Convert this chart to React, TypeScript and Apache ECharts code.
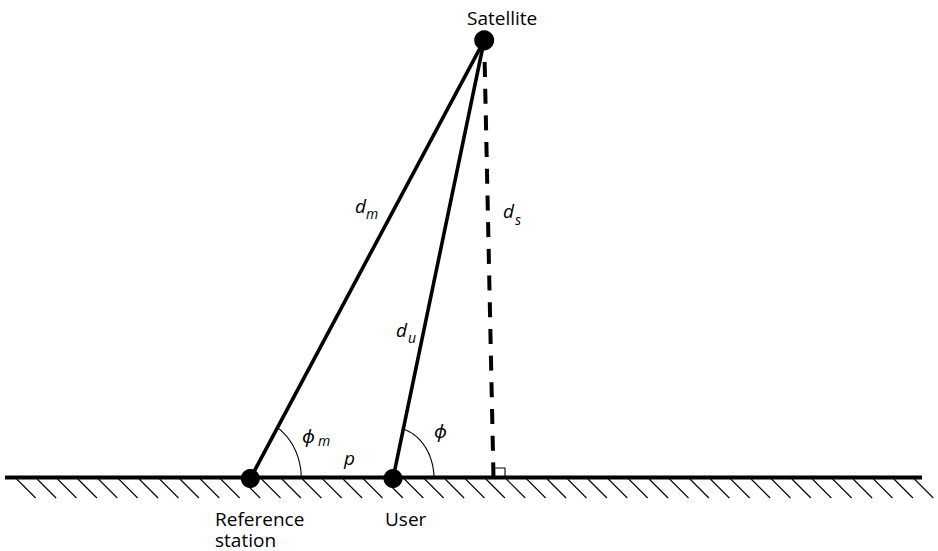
import React, { useEffect, useRef } from "react";
import * as echarts from "echarts";

const W = 938;
const H = 551;

// Geometry (data units = pixels of the 938x551 canvas, y measured downward)
const satellite = [484.2, 40.3];
const referenceStation = [250.3, 478.5];
const user = [393, 478.5];
const foot = [493.5, 477.5];
const groundLine = [[5, 477.5], [922, 477.5]];
const rightAngleMark = [[493.5, 468], [505, 468], [505, 477.5]];
const hatchTopY = 479;
const hatchBottomY = 498;
const hatchStartX = Array.from({ length: 45 }, (_, i) => 16.7 + i * 20.4);
// angle arcs: [centerX, centerY, towardX, towardY, radiusX, radiusY]
const angleArcs = [
  [referenceStation[0], referenceStation[1], satellite[0], satellite[1], 51, 60],
  [user[0], user[1], satellite[0], satellite[1], 41, 51],
];

const FONT = "'Open Sans', 'Noto Sans', sans-serif";

function txt(text: string, x: number, y: number, size: number, italic = false, extra: any = {}) {
  return {
    type: "text",
    x,
    y,
    style: {
      text,
      fontFamily: FONT,
      fontSize: size,
      fontStyle: italic ? "italic" : "normal",
      fill: "#000",
      align: "left",
      verticalAlign: "middle",
      ...extra,
    },
  };
}

export default function App() {
  const ref = useRef<HTMLDivElement>(null);
  useEffect(() => {
    if (!ref.current) return;
    const chart = echarts.init(ref.current, null, { renderer: "svg" });
    const option: any = {
      animation: false,
      backgroundColor: "#fff",
      grid: { left: 0, right: 0, top: 0, bottom: 0 },
      xAxis: { type: "value", min: 0, max: W, show: false },
      yAxis: { type: "value", min: 0, max: H, inverse: true, show: false },
      series: [
        {
          type: "line",
          data: groundLine,
          symbol: "none",
          lineStyle: { color: "#000", width: 4 },
          z: 3,
        },
        {
          type: "custom",
          data: hatchStartX.map((x) => [x, hatchTopY]),
          renderItem: (params: any, api: any) => {
            const x = api.value(0);
            const y = api.value(1);
            const p0 = api.coord([x, y]);
            const p1 = api.coord([x + (hatchBottomY - hatchTopY), hatchBottomY]);
            return {
              type: "line",
              shape: { x1: p0[0], y1: p0[1], x2: p1[0], y2: p1[1] },
              style: { stroke: "#000", lineWidth: 1.1 },
            };
          },
          z: 2,
        },
        {
          type: "line",
          data: [satellite, referenceStation],
          symbol: "none",
          lineStyle: { color: "#000", width: 3.6 },
          z: 3,
        },
        {
          type: "line",
          data: [satellite, user],
          symbol: "none",
          lineStyle: { color: "#000", width: 3.6 },
          z: 3,
        },
        {
          type: "line",
          data: [satellite, foot],
          symbol: "none",
          lineStyle: { color: "#000", width: 4, type: [15, 11.7], dashOffset: 5 },
          z: 3,
        },
        {
          type: "line",
          data: rightAngleMark,
          symbol: "none",
          lineStyle: { color: "#000", width: 1.1 },
          z: 3,
        },
        {
          type: "custom",
          data: angleArcs,
          renderItem: (params: any, api: any) => {
            const c = api.coord([api.value(0), api.value(1)]);
            const t = api.coord([api.value(2), api.value(3)]);
            const r = api.size([api.value(4), api.value(5)]);
            const rx = r[0];
            const ry = r[1];
            const dx = t[0] - c[0];
            const dy = c[1] - t[1];
            const end = Math.atan2(rx * dy, ry * dx);
            const pts: number[][] = [];
            const n = 40;
            for (let i = 0; i <= n; i++) {
              const a = (end * i) / n;
              pts.push([c[0] + rx * Math.cos(a), c[1] - ry * Math.sin(a)]);
            }
            return {
              type: "polyline",
              shape: { points: pts },
              style: { stroke: "#000", lineWidth: 1.1, fill: null },
            };
          },
          z: 3,
        },
        {
          type: "scatter",
          data: [satellite],
          symbol: "circle",
          symbolSize: 20,
          itemStyle: { color: "#000", opacity: 1 },
          z: 5,
        },
        {
          type: "scatter",
          data: [referenceStation, user],
          symbol: "circle",
          symbolSize: 19,
          itemStyle: { color: "#000", opacity: 1 },
          z: 5,
        },
      ],
      graphic: [
        txt("Satellite", 467, 17.6, 19),
        txt("Reference\nstation", 215, 508, 19, false, { verticalAlign: "top", lineHeight: 21 }),
        txt("User", 385, 518.6, 19),
        txt("d", 355, 205.6, 19, true),
        txt("m", 366, 213.6, 14, true),
        txt("d", 503, 210.6, 19, true),
        txt("s", 515, 219.6, 14, true),
        txt("d", 396, 329.6, 19, true),
        txt("u", 408, 337.6, 14, true),
        txt("ϕ", 302, 435.6, 19, true),
        txt("m", 318, 440.6, 14, true),
        txt("ϕ", 434, 430.6, 19, true),
        txt("p", 344, 457.6, 19, true),
      ],
    };
    chart.setOption(option);
    return () => chart.dispose();
  }, []);
  return (
    <div
      ref={ref}
      style={{ position: "absolute", left: 0, top: 0, width: W, height: H, background: "#fff" }}
    />
  );
}
